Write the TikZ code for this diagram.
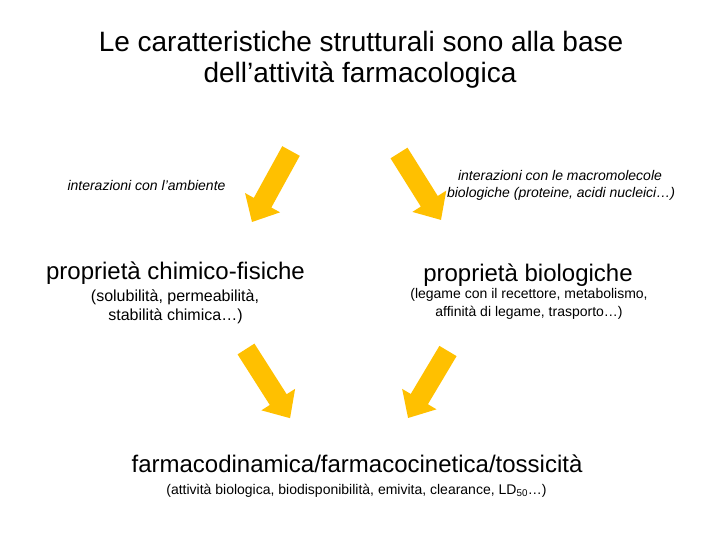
\documentclass[tikz,border=0pt]{standalone}
\usepackage{fontspec}
\setmainfont{Liberation Sans}
\definecolor{arrowgold}{HTML}{FFC000}
\tikzset{
  txt/.style={anchor=base, inner sep=0pt, outer sep=0pt, text=black},
  title/.style={txt, font=\fontsize{28}{32}\selectfont},
  big/.style={txt, font=\fontsize{24}{28}\selectfont},
  small/.style={txt, font=\fontsize{14}{17}\selectfont},
  smallL/.style={txt, font=\fontsize{16}{19}\selectfont},
  note/.style={txt, font=\fontsize{14}{17}\selectfont\itshape},
  arrowbody/.style={fill=arrowgold, draw=none}
}
\newcommand{\blockarrow}[3]{%
  \begin{scope}[shift={(#1)}, rotate=#2]
    \fill[arrowbody] (0,-10) -- ({#3-22},-10) -- ({#3-22},-20) -- (#3,0)
      -- ({#3-22},20) -- ({#3-22},10) -- (0,10) -- cycle;
  \end{scope}}
\begin{document}
\begin{tikzpicture}[x=1pt, y=-1pt]
  \path[use as bounding box, fill=white] (0,0) rectangle (720,540);

  % title
  \node[title] (t1) at (361,52) {Le caratteristiche strutturali sono alla base};
  \node[title] (t2) at (360,83) {dell’attività farmacologica};

  % left column
  \node[note] (nl) at (146.5,191) {interazioni con l’ambiente};
  \node[big] (pl) at (175.5,279) {proprietà chimico-fisiche};
  \node[smallL] (sl1) at (175,301) {(solubilità, permeabilità,};
  \node[smallL] (sl2) at (175.5,320) {stabilità chimica…)};

  % right column
  \node[note] (nr1) at (560,181) {interazioni con le macromolecole};
  \node[note] (nr2) at (561,198) {biologiche (proteine, acidi nucleici…)};
  \node[big] (pr) at (528,281) {proprietà biologiche};
  \node[small] (sr1) at (529,298) {(legame con il recettore, metabolismo,};
  \node[small] (sr2) at (529,316) {affinità di legame, trasporto…)};

  % bottom
  \node[big] (fb) at (357,472) {farmacodinamica/farmacocinetica/tossicità};
  \node[small] (sb) at (356.5,494) {(attività biologica, biodisponibilità, emivita, clearance, LD\textsubscript{50}…)};

  % block arrows
  \coordinate (a1) at (291,151);
  \coordinate (a2) at (399,153);
  \coordinate (a3) at (246,349);
  \coordinate (a4) at (448,351);
  \blockarrow{a1}{241.2}{81}
  \blockarrow{a2}{-57.9}{79}
  \blockarrow{a3}{-57.5}{82}
  \blockarrow{a4}{239.2}{78}
\end{tikzpicture}
\end{document}
